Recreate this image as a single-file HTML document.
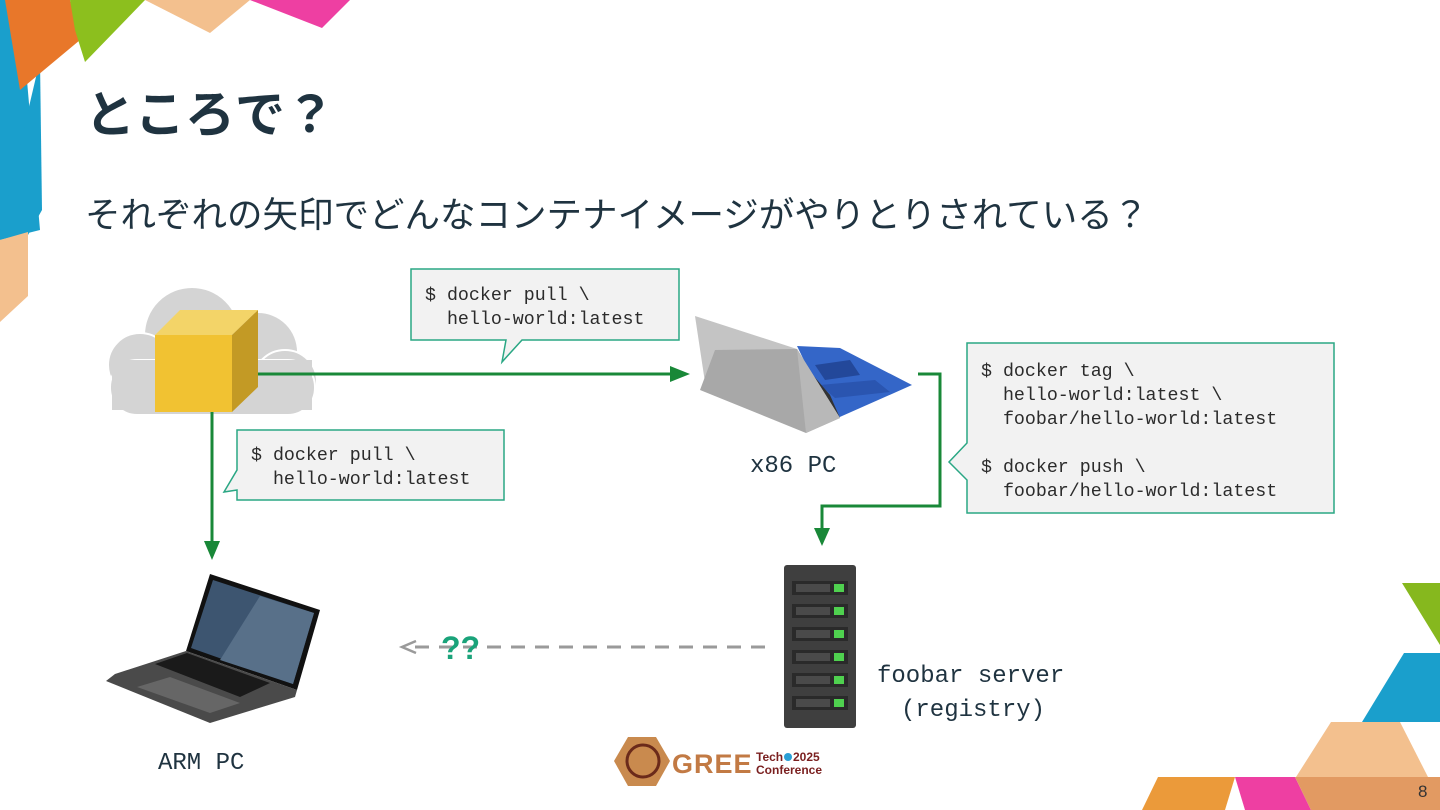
<!DOCTYPE html>
<html><head><meta charset="utf-8">
<style>
html,body{margin:0;padding:0;background:#fff;}
body{width:1440px;height:810px;overflow:hidden;position:relative;}
svg{position:absolute;left:0;top:0;}
text{white-space:pre;}
.m{font-family:"Liberation Mono","DejaVu Sans Mono",monospace;font-size:18.3px;fill:#2b2b2b;}
.j{font-family:"Liberation Sans","Noto Sans CJK JP",sans-serif;fill:#1f3340;}
</style></head><body>
<svg width="1440" height="810" viewBox="0 0 1440 810" xml:space="preserve">
<!-- decorations top-left -->
<polygon points="0,0 20,0 40,230 0,240" fill="#1a9fcc"/>
<polygon points="0,230 28,235 42,210 40,60" fill="#1a9fcc"/>
<polygon points="5,0 70,0 80,40 20,90" fill="#e8772a"/>
<polygon points="70,0 145,0 85,62 75,30" fill="#8cbf1e"/>
<polygon points="145,0 250,0 210,33" fill="#f3c08e"/>
<polygon points="250,0 350,0 322,28" fill="#ee3fa2"/>
<polygon points="0,240 28,232 28,296 0,322" fill="#f3c08e"/>
<!-- decorations bottom-right -->
<polygon points="1402,583 1440,583 1440,645" fill="#86b81e"/>
<polygon points="1404,653 1440,653 1440,722 1362,722" fill="#1a9fcc"/>
<polygon points="1331,722 1400,722 1428,777 1296,777" fill="#f3c08e"/>
<polygon points="1158,777 1235,777 1225,810 1142,810" fill="#eb9a3a"/>
<polygon points="1235,777 1295,777 1311,810 1245,810" fill="#ee3fa2"/>
<polygon points="1295,777 1440,777 1440,810 1311,810" fill="#e29a62"/>
<text x="1418" y="797" font-family="Liberation Sans,sans-serif" font-size="17" fill="#333">8</text>
<!-- title -->
<text x="85" y="132" class="j" font-size="50" font-weight="bold">ところで？</text>
<text x="85" y="227" class="j" font-size="35.5">それぞれの矢印でどんなコンテナイメージがやりとりされている？</text>
<!-- cloud -->
<g fill="#d4d4d4" stroke="#fff" stroke-width="2">
<circle cx="192" cy="335" r="48"/>
<circle cx="140" cy="365" r="32"/>
<circle cx="258" cy="352" r="40"/>
<circle cx="285" cy="382" r="32"/>
<rect x="110" y="360" width="205" height="55" rx="27"/>
</g>
<rect x="112" y="360" width="200" height="50" fill="#d4d4d4"/>
<!-- cube -->
<polygon points="155,335 180,310 258,310 232,335" fill="#f3d468"/>
<polygon points="232,335 258,310 258,387 232,412" fill="#c39a25"/>
<rect x="155" y="335" width="77" height="77" fill="#f1c232"/>
<!-- arrows -->
<line x1="258" y1="374" x2="675" y2="374" stroke="#198838" stroke-width="3"/>
<polygon points="690,374 670,366 670,382" fill="#198838"/>
<line x1="212" y1="412" x2="212" y2="545" stroke="#198838" stroke-width="3"/>
<polygon points="212,560 204,541 220,541" fill="#198838"/>
<polyline points="918,374 940,374 940,506 822,506 822,530" fill="none" stroke="#198838" stroke-width="3"/>
<polygon points="822,546 814,528 830,528" fill="#198838"/>
<!-- callouts -->
<path d="M411,269 H679 V340 H522 L502,362 L506,340 H411 Z" fill="#f2f2f2" stroke="#2aa784" stroke-width="1.5"/>
<text class="m" x="425" y="300">$ docker pull \</text>
<text class="m" x="425" y="324">  hello-world:latest</text>
<path d="M237,430 H504 V500 H237 V490 L224,492 L237,470 Z" fill="#f2f2f2" stroke="#2aa784" stroke-width="1.5"/>
<text class="m" x="251" y="460">$ docker pull \</text>
<text class="m" x="251" y="484">  hello-world:latest</text>
<path d="M967,343 H1334 V513 H967 V480 L949,462 L967,443 Z" fill="#f2f2f2" stroke="#2aa784" stroke-width="1.5"/>
<text class="m" x="981" y="376">$ docker tag \</text>
<text class="m" x="981" y="400">  hello-world:latest \</text>
<text class="m" x="981" y="424">  foobar/hello-world:latest</text>
<text class="m" x="981" y="472">$ docker push \</text>
<text class="m" x="981" y="496">  foobar/hello-world:latest</text>
<!-- x86 tablet -->
<polygon points="797,346 840,348 912,385 833,420" fill="#3466c8"/>
<polygon points="815,365 850,360 860,375 825,380" fill="#23489a"/>
<polygon points="820,385 875,380 890,392 835,398" fill="#2a55b0"/>
<polygon points="800,360 820,408 840,418 830,395" fill="#333"/>
<polygon points="695,316 797,349 840,418 706,389" fill="#c4c4c4"/>
<polygon points="715,350 797,349 840,418 806,433 700,390" fill="#a8a8a8"/>
<polygon points="797,349 840,418 806,433" fill="#b8b8b8"/>
<text x="750" y="472" font-family="Liberation Mono,monospace" font-size="24" fill="#1f3340">x86 PC</text>
<!-- server -->
<rect x="784" y="565" width="72" height="163" rx="3" fill="#3f3f3f"/>
<g>
<rect x="792" y="581" width="56" height="14" fill="#2a2a2a"/><rect x="796" y="584" width="34" height="8" fill="#4a4a4a"/><rect x="834" y="584" width="10" height="8" fill="#4fd14f"/>
<rect x="792" y="604" width="56" height="14" fill="#2a2a2a"/><rect x="796" y="607" width="34" height="8" fill="#4a4a4a"/><rect x="834" y="607" width="10" height="8" fill="#4fd14f"/>
<rect x="792" y="627" width="56" height="14" fill="#2a2a2a"/><rect x="796" y="630" width="34" height="8" fill="#4a4a4a"/><rect x="834" y="630" width="10" height="8" fill="#4fd14f"/>
<rect x="792" y="650" width="56" height="14" fill="#2a2a2a"/><rect x="796" y="653" width="34" height="8" fill="#4a4a4a"/><rect x="834" y="653" width="10" height="8" fill="#4fd14f"/>
<rect x="792" y="673" width="56" height="14" fill="#2a2a2a"/><rect x="796" y="676" width="34" height="8" fill="#4a4a4a"/><rect x="834" y="676" width="10" height="8" fill="#4fd14f"/>
<rect x="792" y="696" width="56" height="14" fill="#2a2a2a"/><rect x="796" y="699" width="34" height="8" fill="#4a4a4a"/><rect x="834" y="699" width="10" height="8" fill="#4fd14f"/>
</g>
<text x="877" y="682" font-family="Liberation Mono,monospace" font-size="24" fill="#1f3340">foobar server</text>
<text x="901" y="716" font-family="Liberation Mono,monospace" font-size="24" fill="#1f3340">(registry)</text>
<!-- dashed -->
<line x1="765" y1="647" x2="410" y2="647" stroke="#9a9a9a" stroke-width="3" stroke-dasharray="14,10"/>
<polyline points="416,641 402,647 416,653" fill="none" stroke="#9a9a9a" stroke-width="2.5"/>
<text x="441" y="659" font-family="Liberation Sans,sans-serif" font-size="32" font-weight="bold" fill="#1aa37a">??</text>
<!-- laptop -->
<polygon points="210,574 320,610 297,690 186,651" fill="#111"/>
<polygon points="213,580 314,613 293,684 191,648" fill="#3d5570"/>
<polygon points="260,596 314,613 293,684 220,660" fill="#587089"/>
<polygon points="186,651 297,690 295,697 210,723 106,681 115,674" fill="#4a4a4a"/>
<polygon points="155,664 187,653 270,683 240,697" fill="#1a1a1a"/>
<polygon points="137,687 170,677 240,703 210,713" fill="#666"/>
<text x="158" y="769" font-family="Liberation Mono,monospace" font-size="24" fill="#1f3340">ARM PC</text>
<!-- logo -->
<polygon points="628,737 656,737 670,761 656,786 628,786 614,761" fill="#c98a4e"/>
<circle cx="643" cy="761" r="16" fill="none" stroke="#6b2a1a" stroke-width="3"/>
<text x="672" y="773" font-family="Liberation Sans,sans-serif" font-size="27" font-weight="bold" fill="#c27a44" letter-spacing="1">GREE</text>
<text x="756" y="761" font-family="Liberation Sans,sans-serif" font-size="12" font-weight="bold" fill="#7a1f1f">Tech</text>
<text x="793" y="761" font-family="Liberation Sans,sans-serif" font-size="12" font-weight="bold" fill="#7a1f1f">2025</text>
<circle cx="788" cy="757" r="4" fill="#2a9fd6"/>
<text x="756" y="774" font-family="Liberation Sans,sans-serif" font-size="12" font-weight="bold" fill="#7a1f1f">Conference</text>
</svg>
</body></html>
